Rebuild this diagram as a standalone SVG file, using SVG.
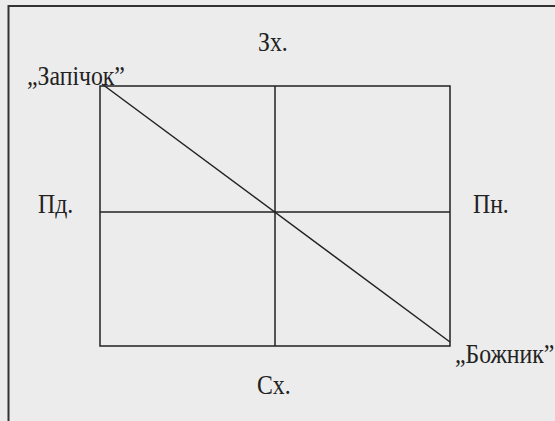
<svg xmlns="http://www.w3.org/2000/svg" width="555" height="421" viewBox="0 0 555 421">
<style>
.lbl{font-family:"Liberation Serif","Times New Roman",serif;font-size:27px;fill:#222;}
.ln{stroke:#222;stroke-width:1.5;fill:none;}
</style>
<rect x="0" y="0" width="555" height="421" fill="#ececec"/>
<path d="M8.5 421 V6 H555" fill="none" stroke="#333" stroke-width="2"/>
<g id="connectors">
<rect class="ln" x="100" y="86" width="350" height="260"/>
<line class="ln" x1="275" y1="86" x2="275" y2="346"/>
<line class="ln" x1="100" y1="212" x2="450" y2="212"/>
<line class="ln" x1="102" y1="84" x2="450" y2="342"/>
</g>
<g id="west"><text class="lbl" transform="translate(258,51) scale(0.88,1)">Зх.</text></g>
<g id="zapichok"><text class="lbl" transform="translate(27,85) scale(0.88,1)">„Запічок”</text></g>
<g id="south"><text class="lbl" transform="translate(38,213) scale(0.88,1)">Пд.</text></g>
<g id="north"><text class="lbl" transform="translate(473,213) scale(0.88,1)">Пн.</text></g>
<g id="bozhnyk"><text class="lbl" transform="translate(455,363) scale(0.88,1)">„Божник”</text></g>
<g id="east"><text class="lbl" transform="translate(257,394) scale(0.88,1)">Сх.</text></g>
</svg>
